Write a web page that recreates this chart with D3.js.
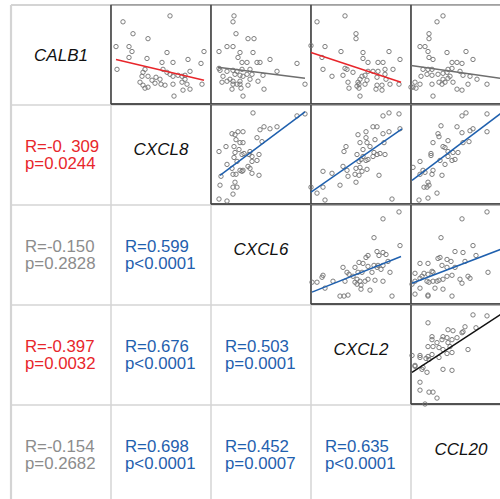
<!DOCTYPE html>
<html>
<head>
<meta charset="utf-8">
<script src="https://cdn.jsdelivr.net/npm/d3@7"></script>
<style>
  body { margin: 0; background: #fff; }
  svg { display: block; }
</style>
</head>
<body>
<script>
const W = 500, H = 499;
const gridLeft = 11, gridTop = 5, cell = 100;

// genes along the diagonal
const genes = ['CALB1', 'CXCL8', 'CXCL6', 'CXCL2', 'CCL20'];

// lower triangle: [row, col], R text, p text
const corrPairs = [[1,0],[2,0],[2,1],[3,0],[3,1],[3,2],[4,0],[4,1],[4,2],[4,3]];
const rTexts = ['-0. 309','-0.150','0.599','-0.397','0.676','0.503','-0.154','0.698','0.452','0.635'];
const pTexts = ['=0.0244','=0.2828','<0.0001','=0.0032','<0.0001','=0.0001','=0.2682','<0.0001','=0.0007','<0.0001'];

// upper triangle scatter panels: [row, col]
const panelPairs = [[0,1],[0,2],[0,3],[0,4],[1,2],[1,3],[1,4],[2,3],[2,4],[3,4]];

// points per panel, values on a 0-100 scale for each gene
const pts01 = [[12,83],[59,89],[22,71],[37,66],[5,58],[18,58],[21,53],[18,47],[36,46],[56,52],[51,42],[62,42],[77,45],[93,53],[90,41],[6,35],[34,35],[32,32],[52,35],[56,32],[79,33],[31,28],[37,28],[45,27],[49,25],[41,24],[59,30],[62,28],[67,29],[71,28],[74,29],[29,22],[32,19],[44,21],[50,20],[54,19],[62,20],[71,22],[76,20],[91,20],[34,16],[37,17],[72,14],[79,15],[63,8],[74,25]];
const pts02 = [[23,89],[22,83],[25,71],[37,66],[16,58],[22,58],[29,52],[8,53],[27,47],[31,42],[36,42],[8,36],[9,34],[16,33],[22,34],[26,33],[31,35],[24,30],[29,29],[36,30],[12,28],[19,25],[22,23],[29,23],[32,28],[11,22],[16,23],[22,20],[26,20],[29,20],[37,19],[21,15],[30,16],[32,8],[42,52],[46,42],[49,42],[59,45],[66,33],[86,41],[94,20],[39,35],[41,30],[52,29],[47,23],[53,15],[43,66],[39,25]];
const pts03 = [[6,83],[34,89],[45,71],[45,66],[14,58],[0,59],[30,53],[52,52],[78,53],[11,47],[52,46],[89,45],[67,42],[72,42],[57,42],[12,35],[34,36],[36,35],[82,35],[74,35],[21,28],[32,29],[42,32],[57,33],[62,33],[67,33],[74,30],[51,28],[54,29],[49,25],[56,24],[66,27],[75,25],[37,22],[47,22],[48,20],[46,18],[54,20],[66,19],[71,19],[79,20],[88,20],[38,16],[48,16],[65,15],[71,14],[49,8]];
const pts04 = [[32,89],[26,83],[18,71],[18,66],[9,58],[14,58],[17,53],[36,52],[55,53],[18,47],[22,45],[62,45],[41,42],[46,42],[51,41],[12,35],[17,35],[21,35],[37,35],[41,36],[49,33],[16,30],[27,30],[32,31],[36,32],[52,29],[59,28],[10,28],[21,29],[39,28],[32,25],[37,26],[66,25],[4,22],[9,20],[21,20],[28,22],[31,20],[34,22],[42,22],[57,20],[76,20],[2,17],[5,16],[46,15],[51,14],[22,8],[0,17]];
const pts12 = [[42,92],[86,89],[94,91],[66,78],[59,76],[53,78],[49,75],[21,71],[24,70],[27,73],[32,73],[25,65],[29,62],[32,62],[46,67],[51,63],[15,58],[23,58],[28,55],[8,53],[39,53],[24,52],[31,50],[33,51],[38,50],[41,48],[48,50],[23,47],[26,43],[46,44],[41,43],[16,40],[37,38],[39,36],[21,36],[29,34],[31,33],[32,34],[41,31],[10,28],[22,30],[25,30],[48,29],[24,22],[9,19],[22,17],[26,17],[22,10],[8,5],[16,3]];
const pts13 = [[72,89],[78,92],[88,91],[62,78],[66,78],[89,76],[78,73],[72,71],[47,70],[55,73],[49,62],[56,62],[55,67],[64,65],[73,62],[35,58],[33,53],[52,55],[59,58],[46,50],[50,45],[52,48],[57,45],[62,48],[66,50],[69,51],[74,50],[63,52],[48,43],[55,44],[32,38],[36,34],[45,36],[49,37],[51,33],[56,35],[21,31],[37,28],[44,30],[48,29],[12,33],[68,29],[29,19],[45,22],[0,17],[12,17],[6,11],[14,4],[81,5]];
const pts14 = [[55,92],[51,89],[76,91],[30,79],[46,78],[59,74],[62,76],[27,71],[28,68],[37,64],[51,72],[76,73],[22,62],[32,58],[34,57],[52,62],[58,63],[37,53],[42,52],[47,52],[20,51],[20,49],[37,48],[41,44],[44,45],[29,44],[9,43],[34,40],[2,37],[12,34],[22,34],[14,32],[9,30],[21,30],[31,29],[17,22],[18,19],[16,17],[13,17],[26,11],[17,6],[8,4]];
const pts23 = [[88,93],[72,86],[63,67],[89,59],[66,53],[72,52],[75,50],[68,49],[57,49],[55,47],[77,43],[48,42],[52,41],[32,37],[63,39],[66,37],[67,39],[72,39],[70,35],[44,37],[57,38],[36,32],[38,30],[47,32],[51,32],[61,32],[79,32],[12,29],[11,27],[42,28],[46,25],[49,23],[57,25],[64,24],[72,23],[6,22],[1,22],[22,23],[34,23],[44,22],[46,20],[50,19],[54,23],[14,16],[50,15],[59,14],[29,8],[33,8],[37,9],[81,8]];
const pts24 = [[76,93],[51,86],[30,67],[62,59],[44,53],[52,52],[65,49],[29,47],[27,46],[36,45],[40,43],[54,43],[9,41],[17,41],[31,39],[36,37],[44,37],[21,33],[22,32],[13,31],[17,30],[4,31],[11,28],[36,28],[41,29],[49,25],[57,28],[59,26],[77,32],[4,23],[9,26],[16,23],[22,23],[26,23],[28,24],[32,25],[1,20],[9,16],[18,22],[24,16],[32,15],[51,21],[4,10],[17,9],[17,8],[41,8]];
const pts34 = [[62,90],[76,89],[17,82],[54,78],[65,77],[37,75],[42,74],[51,72],[52,73],[21,68],[32,68],[36,67],[31,65],[41,65],[46,67],[21,65],[26,62],[37,62],[39,58],[32,55],[22,58],[17,58],[28,57],[57,55],[21,50],[36,51],[41,52],[17,48],[9,49],[9,47],[15,46],[28,47],[1,49],[18,45],[4,39],[4,38],[11,35],[16,32],[32,35],[41,34],[12,37],[9,22],[9,14],[18,12],[22,12],[26,6],[14,0]];
const panelPoints = [pts01, pts02, pts03, pts04, pts12, pts13, pts14, pts23, pts24, pts34];

// fitted lines per panel: slope, intercept, x start, x end
const fitSlope = [-0.239, -0.126, -0.333, -0.146, 0.753, 0.703, 0.761, 0.404, 0.386, 0.659];
const fitIntercept = [46.2, 37.9, 52.0, 39.0, 22.2, 12.0, 23.2, 11.6, 20.6, 31.3];
const fitFrom = [5, 7, 0, 0, 9, 0, 1, 1, 1, 1];
const fitTo = [93, 94, 90, 100, 94, 91, 100, 90, 100, 100];

const RED = '#e8262b', BLUE = '#1f60ae', GRAY = '#8c8c8c';
const lineColorOverride = { '3-4': '#111' };

function sigColor(r, p) {
  const rv = parseFloat(r.replace(' ', ''));
  const pv = parseFloat(p.slice(1));
  if (pv >= 0.05) return GRAY;
  return rv < 0 ? RED : BLUE;
}
// colour of each panel taken from its mirrored lower cell
function pairColor(i, j) {
  const k = corrPairs.findIndex(d => d[0] === j && d[1] === i);
  return sigColor(rTexts[k], pTexts[k]);
}

const svg = d3.select('body').append('svg')
    .attr('width', W)
    .attr('height', H)
    .style('font-family', 'Liberation Sans, Arial, sans-serif');

const n = genes.length;
const pos = d3.scaleLinear().domain([0, n]).range([0, n * cell]);

// grid
const grid = svg.append('g').attr('stroke', '#d4d4d4');
d3.range(n + 1).forEach(k => {
  grid.append('line')
      .attr('x1', gridLeft + pos(k)).attr('x2', gridLeft + pos(k))
      .attr('y1', gridTop).attr('y2', H + 10)
      .attr('stroke-width', k === 0 ? 2.2 : 1.5);
  grid.append('line')
      .attr('y1', gridTop + pos(k)).attr('y2', gridTop + pos(k))
      .attr('x1', gridLeft).attr('x2', W + 10)
      .attr('stroke-width', k === 0 ? 2.2 : 1.5);
});

// diagonal gene names
svg.selectAll('text.gene')
  .data(genes)
  .join('text')
    .attr('class', 'gene')
    .attr('x', (d, i) => gridLeft + pos(i) + cell / 2)
    .attr('y', (d, i) => gridTop + pos(i) + cell / 2 + (i === 0 ? 6 : 0))
    .attr('text-anchor', 'middle')
    .attr('font-size', 17)
    .attr('font-style', 'italic')
    .attr('fill', '#111')
    .text(d => d);

// correlation text
corrPairs.forEach((pr, k) => {
  const [r, c] = pr;
  const col = sigColor(rTexts[k], pTexts[k]);
  const t = svg.append('text')
      .attr('x', gridLeft + pos(c) + 14)
      .attr('y', gridTop + pos(r) + 46.5)
      .attr('font-size', 16.8)
      .attr('fill', col);
  t.append('tspan').text('R=' + rTexts[k]);
  t.append('tspan')
      .attr('x', gridLeft + pos(c) + 14)
      .attr('dy', 17)
      .text('p' + pTexts[k]);
});

// scatter panels
panelPairs.forEach((pr, k) => {
  const [r, c] = pr;
  const x0 = gridLeft + pos(c), y0 = gridTop + pos(r);
  const x = d3.scaleLinear().domain([0, 100]).range([x0, x0 + cell]);
  const y = d3.scaleLinear().domain([0, 100]).range([y0 + cell - 1, y0]);
  const g = svg.append('g');

  g.append('rect')
      .attr('x', x0).attr('y', y0)
      .attr('width', cell).attr('height', cell - 1)
      .attr('fill', '#fff')
      .attr('stroke', '#808080')
      .attr('stroke-width', 1.2);
  g.append('line')
      .attr('x1', x0).attr('x2', x0 + cell)
      .attr('y1', y0 + cell - 1).attr('y2', y0 + cell - 1)
      .attr('stroke', '#333').attr('stroke-width', 1.5);
  g.append('line')
      .attr('x1', x0).attr('x2', x0)
      .attr('y1', y0).attr('y2', y0 + cell - 1)
      .attr('stroke', '#444').attr('stroke-width', 1.4);

  g.selectAll('circle')
    .data(panelPoints[k])
    .join('circle')
      .attr('cx', d => x(d[0]))
      .attr('cy', d => y(d[1]))
      .attr('r', 2.2)
      .attr('fill', 'none')
      .attr('stroke', '#707070')
      .attr('stroke-width', 0.9);

  const key = r + '-' + c;
  const lc = lineColorOverride[key] || (pairColor(r, c) === GRAY ? '#6e6e6e' : pairColor(r, c));
  g.append('line')
      .attr('x1', x(fitFrom[k]))
      .attr('y1', y(fitSlope[k] * fitFrom[k] + fitIntercept[k]))
      .attr('x2', x(fitTo[k]))
      .attr('y2', y(fitSlope[k] * fitTo[k] + fitIntercept[k]))
      .attr('stroke', lc)
      .attr('stroke-width', 1.5);
});
</script>
</body>
</html>
